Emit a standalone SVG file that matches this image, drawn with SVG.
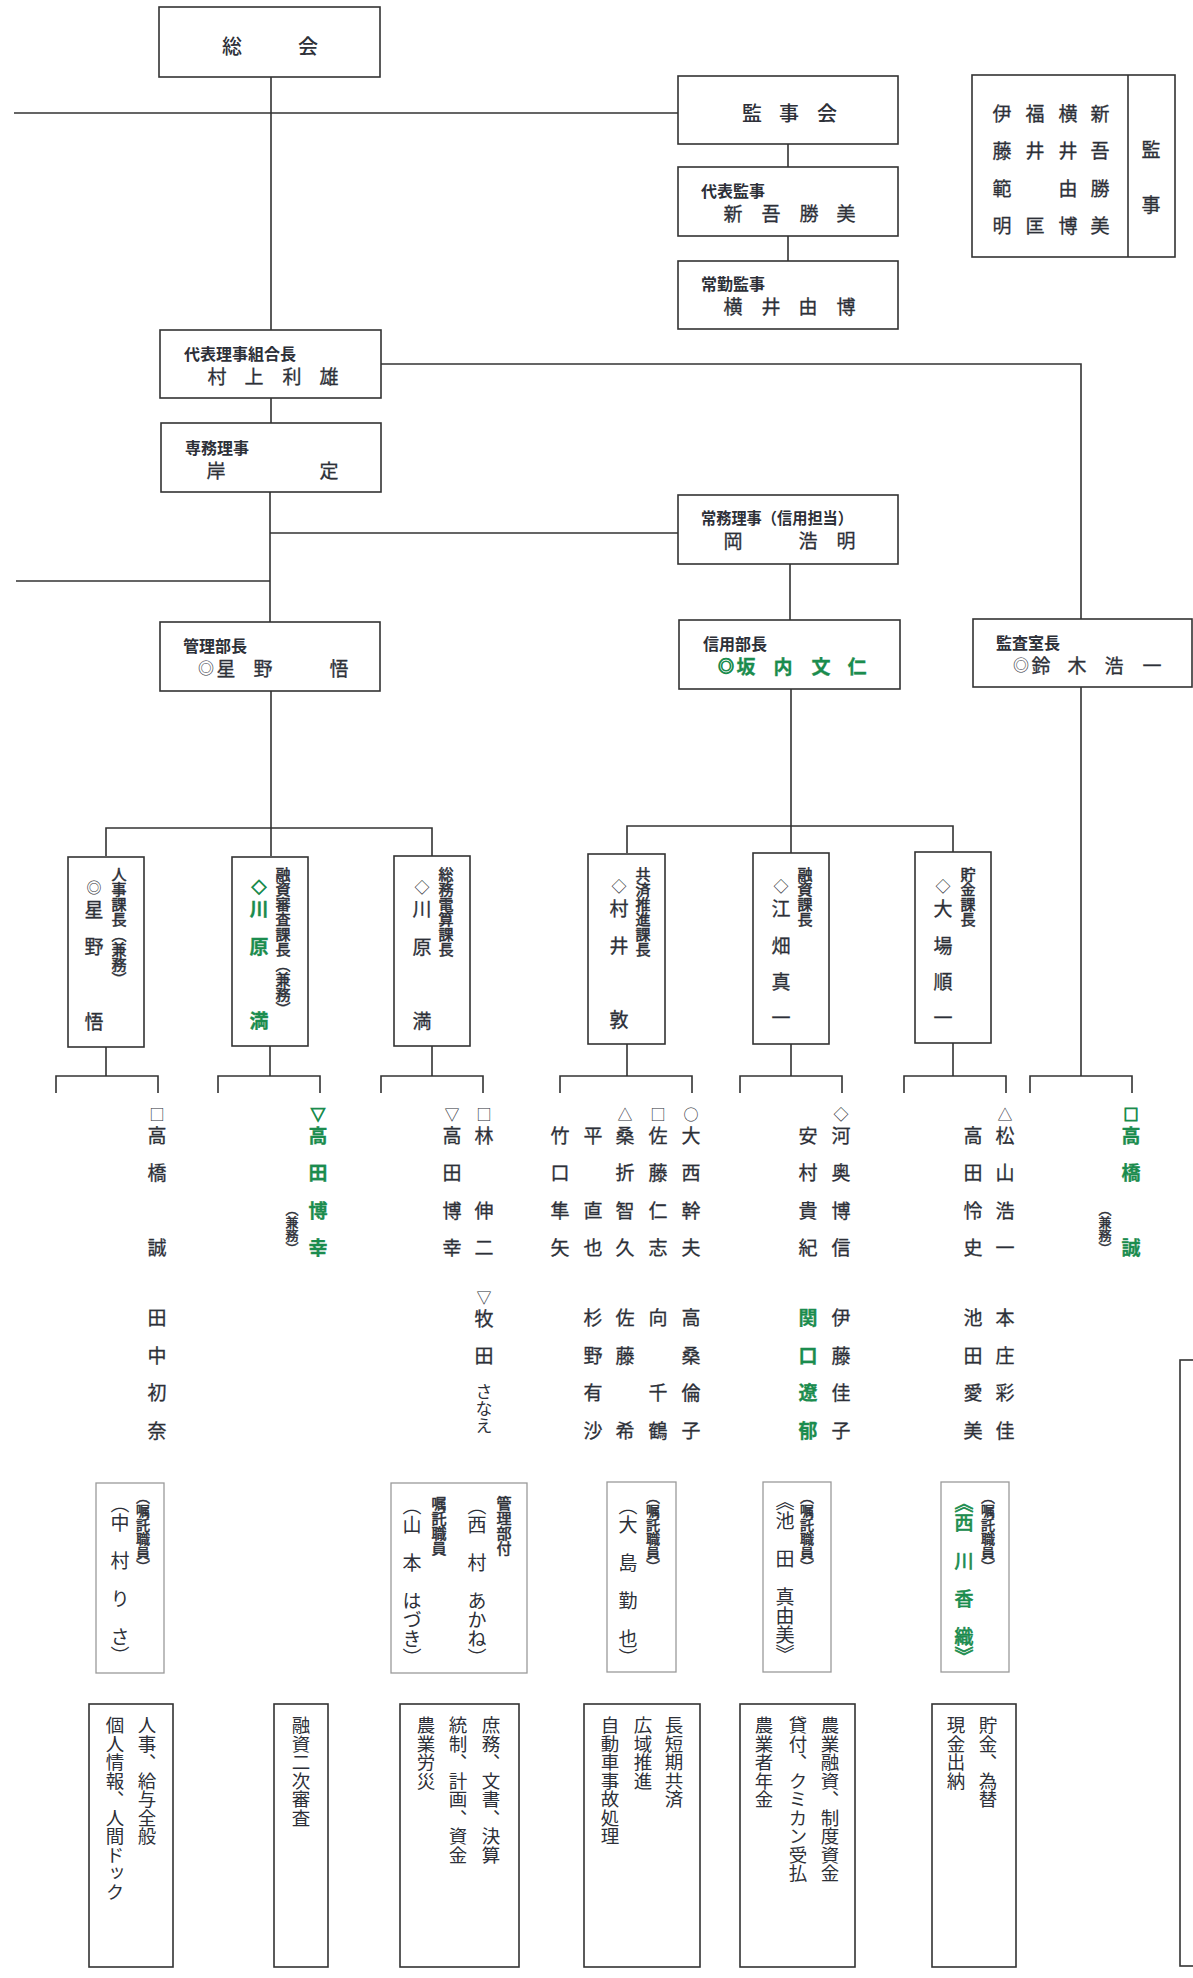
<svg xmlns="http://www.w3.org/2000/svg" width="1193" height="1978" viewBox="0 0 1193 1978">
<style>
.ln{stroke:#333;stroke-width:1.6;fill:none}
.bx{fill:#fff;stroke:#333;stroke-width:1.6}
.bx2{fill:#fff;stroke:#9a9a9a;stroke-width:1.3}
text{font-family:"Noto Sans CJK JP","Noto Sans CJK SC",sans-serif;fill:#2d3038}
.c{text-anchor:middle;dominant-baseline:central}
.l{dominant-baseline:central}
.n{font-size:19px;stroke:#2d3038;stroke-width:0.3}
.big{font-size:20px;font-weight:500}
.lb{font-size:16px;font-weight:bold}
.s{font-size:15px}
.o{font-size:16px}
.g{fill:#1b8c4e;stroke:#1b8c4e;font-weight:bold}
.v{writing-mode:vertical-rl}
.vl{font-size:15px;stroke:#2d3038;stroke-width:0.55}
.vs{font-size:14px;stroke:#2d3038;stroke-width:0.5}
.vk{font-size:13px;stroke:#2d3038;stroke-width:0.45}
.vn{font-size:19px}
.vg{fill:#1b8c4e;stroke:#1b8c4e;stroke-width:0.7}
.vd{font-size:18.5px}
.kn{font-size:17px}
</style>
<rect width="1193" height="1978" fill="#fff"/>
<g id="connectors">
<path class="ln" d="M271 77V330M14 113H678M788 144V167M788 236V261M271 398V423M381 364H1081V619M270 492V622M270 533H678M16 581H270M790 564V620"/>
<path class="ln" d="M271 691V856M106 856V828H432V856M791 689V853M627 853V826H953V852M1081 687V1076"/>
<path class="ln" d="M106 1047V1076M56 1093V1076H158V1093M270 1046V1076M218 1093V1076H320V1093M432 1046V1076M381 1093V1076H483V1093M627 1044V1076M560 1093V1076H692V1093M791 1044V1076M740 1093V1076H842V1093M953 1043V1076M904 1093V1076H1006V1093M1030 1093V1076H1132V1093"/>
</g>
<g id="soukai"><rect class="bx" x="159" y="7" width="221" height="70"/><text class="big c" x="232" y="45">総</text><text class="big c" x="308" y="45">会</text></g>
<g id="kanjikai"><rect class="bx" x="678" y="76" width="220" height="68"/><text class="big c" x="752" y="112">監</text><text class="big c" x="789" y="112">事</text><text class="big c" x="827" y="112">会</text></g>
<g id="daihyo-kanji"><rect class="bx" x="678" y="167" width="220" height="69"/><text class="lb l" x="701" y="190">代表監事</text><text class="n c" x="733" y="212">新</text><text class="n c" x="771" y="212">吾</text><text class="n c" x="809" y="212">勝</text><text class="n c" x="846" y="212">美</text></g>
<g id="jokin-kanji"><rect class="bx" x="678" y="261" width="220" height="68"/><text class="lb l" x="701" y="283">常勤監事</text><text class="n c" x="733" y="305">横</text><text class="n c" x="771" y="305">井</text><text class="n c" x="808" y="305">由</text><text class="n c" x="846" y="305">博</text></g>
<g id="kanji-list"><rect class="bx" x="972" y="75" width="203" height="182"/><path class="ln" d="M1128 75V257"/>
<text class="n c" x="1002" y="112">伊</text><text class="n c" x="1002" y="149">藤</text><text class="n c" x="1002" y="187">範</text><text class="n c" x="1002" y="224">明</text>
<text class="n c" x="1035" y="112">福</text><text class="n c" x="1035" y="149">井</text><text class="n c" x="1035" y="224">匡</text>
<text class="n c" x="1068" y="112">横</text><text class="n c" x="1068" y="149">井</text><text class="n c" x="1068" y="187">由</text><text class="n c" x="1068" y="224">博</text>
<text class="n c" x="1100" y="112">新</text><text class="n c" x="1100" y="149">吾</text><text class="n c" x="1100" y="187">勝</text><text class="n c" x="1100" y="224">美</text>
<text class="n c" x="1151" y="148">監</text><text class="n c" x="1151" y="203">事</text></g>
<g id="kumiaicho"><rect class="bx" x="160" y="330" width="221" height="68"/><text class="lb l" x="184" y="353">代表理事組合長</text><text class="n c" x="217" y="375">村</text><text class="n c" x="254" y="375">上</text><text class="n c" x="292" y="375">利</text><text class="n c" x="329" y="375">雄</text></g>
<g id="senmu"><rect class="bx" x="161" y="423" width="220" height="69"/><text class="lb l" x="185" y="447">専務理事</text><text class="n c" x="216" y="469">岸</text><text class="n c" x="329" y="469">定</text></g>
<g id="jomu"><rect class="bx" x="678" y="495" width="220" height="69"/><text class="lb l" x="701" y="517" textLength="152" lengthAdjust="spacingAndGlyphs">常務理事（信用担当）</text><text class="n c" x="733" y="539">岡</text><text class="n c" x="808" y="539">浩</text><text class="n c" x="846" y="539">明</text></g>
<g id="kanribucho"><rect class="bx" x="160" y="622" width="220" height="69"/><text class="lb l" x="183" y="645">管理部長</text><text class="o c" x="206" y="667">◎</text><text class="n c" x="226" y="667">星</text><text class="n c" x="263" y="667">野</text><text class="n c" x="339" y="667">悟</text></g>
<g id="shinyobucho"><rect class="bx" x="679" y="620" width="221" height="69"/><text class="lb l" x="703" y="643">信用部長</text><text class="o c g" x="726" y="665">◎</text><text class="n c g" x="746" y="665">坂</text><text class="n c g" x="783" y="665">内</text><text class="n c g" x="821" y="665">文</text><text class="n c g" x="857" y="665">仁</text></g>
<g id="kansashitsucho"><rect class="bx" x="973" y="619" width="219" height="68"/><text class="lb l" x="996" y="642">監査室長</text><text class="o c" x="1021" y="664">◎</text><text class="n c" x="1041" y="664">鈴</text><text class="n c" x="1077" y="664">木</text><text class="n c" x="1114" y="664">浩</text><text class="n c" x="1152" y="664">一</text></g>
<g id="jinji-kacho"><rect class="bx" x="68" y="857" width="76" height="190"/><text class="v vl" x="119" y="867">人事課長（兼務）</text><text class="s c" x="94" y="886">◎</text><text class="n c" x="94" y="908">星</text><text class="n c" x="94" y="945">野</text><text class="n c" x="94" y="1020">悟</text></g>
<g id="yushin-kacho"><rect class="bx" x="232" y="857" width="76" height="189"/><text class="v vl" x="283" y="867">融資審査課長（兼務）</text><text class="s c g" x="259" y="886">◇</text><text class="n c g" x="259" y="907">川</text><text class="n c g" x="259" y="945">原</text><text class="n c g" x="259" y="1019">満</text></g>
<g id="somu-kacho"><rect class="bx" x="394" y="856" width="76" height="190"/><text class="v vl" x="446" y="867">総務電算課長</text><text class="s c" x="422" y="886">◇</text><text class="n c" x="422" y="907">川</text><text class="n c" x="422" y="945">原</text><text class="n c" x="422" y="1019">満</text></g>
<g id="kyosai-kacho"><rect class="bx" x="588" y="854" width="77" height="190"/><text class="v vl" x="643" y="867">共済推進課長</text><text class="s c" x="619" y="885">◇</text><text class="n c" x="619" y="907">村</text><text class="n c" x="619" y="944">井</text><text class="n c" x="619" y="1018">敦</text></g>
<g id="yushi-kacho"><rect class="bx" x="753" y="853" width="76" height="191"/><text class="v vl" x="805" y="867">融資課長</text><text class="s c" x="781" y="885">◇</text><text class="n c" x="781" y="907">江</text><text class="n c" x="781" y="944">畑</text><text class="n c" x="781" y="980">真</text><text class="n c" x="781" y="1016">一</text></g>
<g id="chokin-kacho"><rect class="bx" x="915" y="852" width="76" height="191"/><text class="v vl" x="968" y="867">貯金課長</text><text class="s c" x="943" y="885">◇</text><text class="n c" x="943" y="907">大</text><text class="n c" x="943" y="944">場</text><text class="n c" x="943" y="980">順</text><text class="n c" x="943" y="1016">一</text></g>
<g id="staff-jinji">
<text class="s c" x="157" y="1113">□</text><text class="n c" x="157" y="1134">高</text><text class="n c" x="157" y="1171">橋</text><text class="n c" x="157" y="1246">誠</text>
<text class="n c" x="157" y="1316">田</text><text class="n c" x="157" y="1354">中</text><text class="n c" x="157" y="1391">初</text><text class="n c" x="157" y="1429">奈</text></g>
<g id="staff-yushin">
<text class="s c g" x="318" y="1113">▽</text><text class="n c g" x="318" y="1134">高</text><text class="n c g" x="318" y="1171">田</text><text class="n c g" x="318" y="1209">博</text><text class="n c g" x="318" y="1246">幸</text>
<text class="v vk" x="292" y="1203">（兼務）</text></g>
<g id="staff-somu">
<text class="s c" x="452" y="1113">▽</text><text class="n c" x="452" y="1134">高</text><text class="n c" x="452" y="1171">田</text><text class="n c" x="452" y="1209">博</text><text class="n c" x="452" y="1246">幸</text>
<text class="s c" x="484" y="1113">□</text><text class="n c" x="484" y="1134">林</text><text class="n c" x="484" y="1209">伸</text><text class="n c" x="484" y="1246">二</text>
<text class="s c" x="484" y="1296">▽</text><text class="n c" x="484" y="1317">牧</text><text class="n c" x="484" y="1354">田</text>
<text class="v kn" x="484" y="1383">さなえ</text></g>
<g id="staff-kyosai">
<text class="n c" x="560" y="1134">竹</text><text class="n c" x="560" y="1171">口</text><text class="n c" x="560" y="1209">隼</text><text class="n c" x="560" y="1246">矢</text>
<text class="n c" x="593" y="1134">平</text><text class="n c" x="593" y="1209">直</text><text class="n c" x="593" y="1246">也</text><text class="n c" x="593" y="1316">杉</text><text class="n c" x="593" y="1354">野</text><text class="n c" x="593" y="1391">有</text><text class="n c" x="593" y="1429">沙</text>
<text class="s c" x="625" y="1113">△</text><text class="n c" x="625" y="1134">桑</text><text class="n c" x="625" y="1171">折</text><text class="n c" x="625" y="1209">智</text><text class="n c" x="625" y="1246">久</text><text class="n c" x="625" y="1316">佐</text><text class="n c" x="625" y="1354">藤</text><text class="n c" x="625" y="1429">希</text>
<text class="s c" x="658" y="1113">□</text><text class="n c" x="658" y="1134">佐</text><text class="n c" x="658" y="1171">藤</text><text class="n c" x="658" y="1209">仁</text><text class="n c" x="658" y="1246">志</text><text class="n c" x="658" y="1316">向</text><text class="n c" x="658" y="1391">千</text><text class="n c" x="658" y="1429">鶴</text>
<text class="s c" x="691" y="1113">○</text><text class="n c" x="691" y="1134">大</text><text class="n c" x="691" y="1171">西</text><text class="n c" x="691" y="1209">幹</text><text class="n c" x="691" y="1246">夫</text><text class="n c" x="691" y="1316">高</text><text class="n c" x="691" y="1354">桑</text><text class="n c" x="691" y="1391">倫</text><text class="n c" x="691" y="1429">子</text></g>
<g id="staff-yushi">
<text class="n c" x="808" y="1134">安</text><text class="n c" x="808" y="1171">村</text><text class="n c" x="808" y="1209">貴</text><text class="n c" x="808" y="1246">紀</text>
<text class="n c g" x="808" y="1316">関</text><text class="n c g" x="808" y="1354">口</text><text class="n c g" x="808" y="1391">遼</text><text class="n c g" x="808" y="1429">郁</text>
<text class="s c" x="841" y="1113">◇</text><text class="n c" x="841" y="1134">河</text><text class="n c" x="841" y="1171">奥</text><text class="n c" x="841" y="1209">博</text><text class="n c" x="841" y="1246">信</text><text class="n c" x="841" y="1316">伊</text><text class="n c" x="841" y="1354">藤</text><text class="n c" x="841" y="1391">佳</text><text class="n c" x="841" y="1429">子</text></g>
<g id="staff-chokin">
<text class="n c" x="973" y="1134">高</text><text class="n c" x="973" y="1171">田</text><text class="n c" x="973" y="1209">怜</text><text class="n c" x="973" y="1246">史</text><text class="n c" x="973" y="1316">池</text><text class="n c" x="973" y="1354">田</text><text class="n c" x="973" y="1391">愛</text><text class="n c" x="973" y="1429">美</text>
<text class="s c" x="1005" y="1113">△</text><text class="n c" x="1005" y="1134">松</text><text class="n c" x="1005" y="1171">山</text><text class="n c" x="1005" y="1209">浩</text><text class="n c" x="1005" y="1246">一</text><text class="n c" x="1005" y="1316">本</text><text class="n c" x="1005" y="1354">庄</text><text class="n c" x="1005" y="1391">彩</text><text class="n c" x="1005" y="1429">佳</text></g>
<g id="staff-kansa">
<text class="s c g" x="1131" y="1113">□</text><text class="n c g" x="1131" y="1134">高</text><text class="n c g" x="1131" y="1171">橋</text><text class="n c g" x="1131" y="1246">誠</text>
<text class="v vk" x="1105" y="1203">（兼務）</text></g>
<g id="shokutaku-jinji"><rect class="bx2" x="96" y="1483" width="68" height="190"/><text class="v vs" x="143" y="1490">（嘱託職員）</text><text class="v vn" x="120" y="1494">（中　村　り　さ）</text></g>
<g id="shokutaku-somu"><rect class="bx2" x="391" y="1483" width="136" height="190"/><text class="v vl" x="504" y="1496">管理部付</text><text class="v vn" x="477" y="1496">（西　村　あかね）</text><text class="v vl" x="439" y="1496">嘱託職員</text><text class="v vn" x="412" y="1496">（山　本　はづき）</text></g>
<g id="shokutaku-kyosai"><rect class="bx2" x="607" y="1482" width="69" height="190"/><text class="v vs" x="653" y="1490">（嘱託職員）</text><text class="v vn" x="628" y="1496">（大　島　勤　也）</text></g>
<g id="shokutaku-yushi"><rect class="bx2" x="763" y="1482" width="68" height="190"/><text class="v vs" x="807" y="1490">（嘱託職員）</text><text class="v vn" x="785" y="1492">《池　田　真由美》</text></g>
<g id="shokutaku-chokin"><rect class="bx2" x="941" y="1482" width="68" height="190"/><text class="v vs" x="988" y="1490">（嘱託職員）</text><text class="v vn vg" x="964" y="1494">《西　川　香　織》</text></g>
<g id="duty-jinji"><rect class="bx" x="89" y="1704" width="84" height="263"/><text class="v vd" x="147" y="1716">人事、給与全般</text><text class="v vd" x="115" y="1716">個人情報、人間ドック</text></g>
<g id="duty-yushin"><rect class="bx" x="274" y="1704" width="54" height="263"/><text class="v vd" x="301" y="1716">融資二次審査</text></g>
<g id="duty-somu"><rect class="bx" x="400" y="1704" width="119" height="263"/><text class="v vd" x="491" y="1716">庶務、文書、決算</text><text class="v vd" x="458" y="1716">統制、計画、資金</text><text class="v vd" x="426" y="1716">農業労災</text></g>
<g id="duty-kyosai"><rect class="bx" x="584" y="1704" width="116" height="263"/><text class="v vd" x="674" y="1716">長短期共済</text><text class="v vd" x="643" y="1716">広域推進</text><text class="v vd" x="610" y="1716">自動車事故処理</text></g>
<g id="duty-yushi"><rect class="bx" x="740" y="1704" width="115" height="263"/><text class="v vd" x="830" y="1716">農業融資、制度資金</text><text class="v vd" x="798" y="1716">貸付、クミカン受払</text><text class="v vd" x="764" y="1716">農業者年金</text></g>
<g id="duty-chokin"><rect class="bx" x="932" y="1704" width="84" height="263"/><text class="v vd" x="988" y="1716">貯金、為替</text><text class="v vd" x="956" y="1716">現金出納</text></g>
<g id="duty-kansa"><rect class="bx" x="1180" y="1360" width="40" height="606"/></g>
</svg>
